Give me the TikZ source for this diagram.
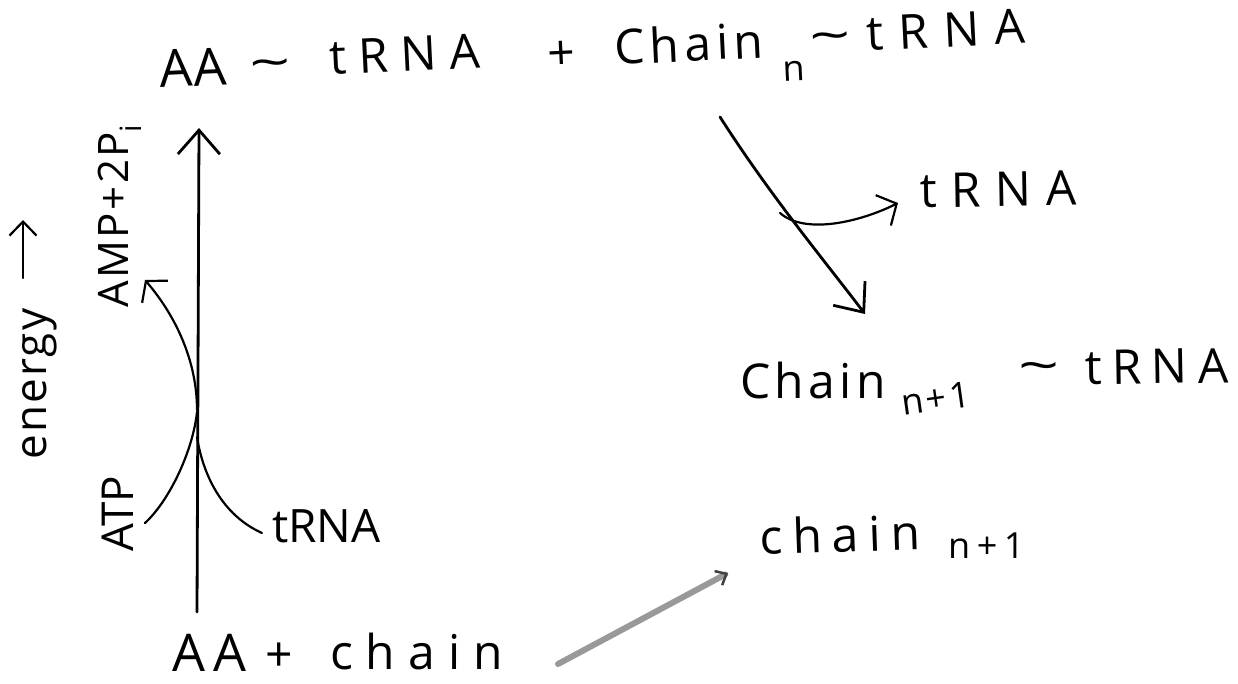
\documentclass[tikz,border=0pt]{standalone}
\usepackage{fontspec}
\setmainfont{Open Sans}
\usetikzlibrary{arrows.meta}
% letter-spaced text, amount in fontspec LetterSpace units
\newcommand{\spaced}[2]{{\addfontfeature{LetterSpace=#1}#2}}

\begin{document}
\begin{tikzpicture}[x=1pt,y=-1pt,
  hw/.style={inner sep=0pt, anchor=base west, font=\fontsize{48}{56}\selectfont},
  hwsub/.style={hw, font=\fontsize{36}{42}\selectfont},
  sym/.style={inner sep=0pt, anchor=base, font=\fontsize{48}{56}\selectfont},
  big/.style={font=\fontsize{52}{60}\selectfont},
  pen/.style={line width=2.8pt, line cap=round, line join=round},
  thinpen/.style={line width=2.2pt, line cap=round, line join=round},
  barb/.style n args={2}{-{Straight Barb[length=#1,width=#2]}}
]
\useasboundingbox (0,0) rectangle (1238,684);

% ---- reactants / products line at the top
\begin{scope}[every node/.append style={rotate=2.8}]
  \node[hw, big] (aaT) at (160,88) {\spaced{2}{AA}};
  \node[sym, xscale=1.5] (tlT1) at (271,79) {\textasciitilde};
  \node[hw] (trnaT1) at (330,75) {\spaced{26}{tRNA}};
  \node[sym] (plusT) at (562,70) {+};
  \node[hw] (chainT) at (615,65) {\spaced{11}{Chain}};
  \node[hwsub] (subT) at (783,82) {n};
  \node[sym, xscale=1.5] (tlT2) at (831,52) {\textasciitilde};
  \node[hw] (trnaT2) at (867,51) {\spaced{32}{tRNA}};
\end{scope}

% ---- released tRNA
\node[hw, rotate=1] (trnaR) at (920,208) {\spaced{30}{tRNA}};

% ---- elongated chain still on tRNA
\node[hw] (chainM) at (740,398) {\spaced{9}{Chain}};
\node[hwsub, rotate=8] (subM) at (903,416) {\spaced{8}{n+1}};
\node[sym, xscale=1.5] (tlM) at (1039,382) {\textasciitilde};
\node[hw, rotate=1] (trnaM) at (1085,385) {\spaced{21}{tRNA}};

% ---- free chain
\node[hw, rotate=2] (chainR) at (760,555) {\spaced{21}{chain}};
\node[hwsub] (subR) at (948,558) {\spaced{18}{n+1}};

% ---- starting point at the bottom
\node[hw, big] (aaB) at (172,671) {\spaced{17}{AA}};
\node[sym] (plusB) at (279,671) {+};
\node[hw] (chainB) at (330,669) {\spaced{27}{chain}};

% ---- side labels of the energy axis
\node[hw, font=\fontsize{46}{54}\selectfont] (trnaL) at (272,542) {tRNA};
\node[hw, rotate=90, font=\fontsize{44}{52}\selectfont] (atp) at (133,552) {ATP};
\node[hw, rotate=90, font=\fontsize{42}{50}\selectfont] (amp) at (128,308)
  {\spaced{6}{AMP+2P\textsubscript{i}}};
\node[hw, rotate=90, font=\fontsize{44}{52}\selectfont] (energy) at (46,460)
  {\spaced{5}{energy}};

% ---- connector end points
\coordinate (vbot) at (197,612);
\coordinate (vtop) at (199,128);
\coordinate (ampj) at (197,410);
\coordinate (ampt) at (145,280);
\coordinate (atpe) at (145,523);
\coordinate (atpj) at (197,412);
\coordinate (trj) at (197,437);
\coordinate (tre) at (262,533);
\coordinate (dS) at (720,117);
\coordinate (dJ) at (780,213);
\coordinate (dE) at (865,314);
\coordinate (bT) at (898,203);
\coordinate (gS) at (558,664);
\coordinate (gE) at (728,573);
\coordinate (eS) at (23,278);
\coordinate (eE) at (23,220);

% energy axis arrow
\draw[thinpen, barb={14pt}{27pt}] (eS) -- (eE);

% main vertical arrow
\draw[pen, barb={24pt}{42pt}] (vbot) -- (vtop);

% ATP and tRNA joining, AMP + 2Pi leaving
\draw[thinpen] (atpe) .. controls (170,500) and (193,450) .. (atpj);
\draw[thinpen] (trj) .. controls (203,475) and (222,515) .. (tre);
\draw[thinpen, barb={14pt}{34pt}] (ampj) .. controls (197,360) and (175,315) .. (ampt);

% transfer step, with tRNA released
\draw[pen, barb={24pt}{40pt}] (dS) .. controls (770,195) and (820,255) .. (dE);
\draw[thinpen, barb={15pt}{34pt}] (dJ) .. controls (805,235) and (860,222) .. (bT);

% overall reaction, grey
\draw[line width=6pt, black!40, line cap=round,
  -{Straight Barb[length=9pt,width=16pt,color=black!75,line width=2.5pt]}] (gS) -- (gE);
\end{tikzpicture}
\end{document}
